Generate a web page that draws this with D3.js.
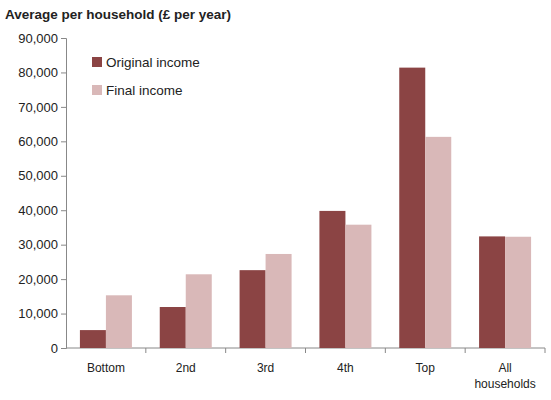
<!DOCTYPE html><html><head><script src="https://cdn.jsdelivr.net/npm/d3@7"></script>
<style>body{margin:0;background:#fff}text{font-family:"Liberation Sans",Arial,sans-serif}</style></head><body>
<script>
const categories=["Bottom","2nd","3rd","4th","Top","All households"];
const original=[5200,11900,22600,39800,81400,32400];
const finalInc=[15300,21400,27300,35800,61300,32300];
const yTicks=[0,10000,20000,30000,40000,50000,60000,70000,80000,90000];
const W=551,H=400,m={l:66,r:545,t:38,b:348};
const svg=d3.select("body").append("svg").attr("width",W).attr("height",H);
const x=d3.scaleBand().domain(categories).range([m.l,m.r]);
const y=d3.scaleLinear().domain([0,90000]).range([m.b,m.t]);
const fmt=d3.format(",");
svg.append("text").attr("x",5).attr("y",19).attr("font-weight","bold").attr("font-size",13.5).attr("fill","#222").text("Average per household (£ per year)");
const ya=svg.append("g").attr("transform",`translate(${m.l},0)`).call(d3.axisLeft(y).tickValues(yTicks).tickFormat(fmt).tickSize(5));
ya.selectAll("text").attr("font-size",13).attr("fill","#222").attr("x",-8);
ya.selectAll("line,path").attr("stroke","#888");
const xa=svg.append("g").attr("transform",`translate(0,${m.b})`);
xa.append("line").attr("x1",m.l).attr("x2",m.r).attr("stroke","#888");
categories.forEach((c,i)=>{
 const x0=x(c);
 xa.append("line").attr("x1",x0+x.bandwidth()).attr("x2",x0+x.bandwidth()).attr("y1",0).attr("y2",5).attr("stroke","#888");
 const t=xa.append("text").attr("x",x0+x.bandwidth()/2).attr("y",24).attr("text-anchor","middle").attr("font-size",12).attr("fill","#222");
 c.split(" ").forEach((w,j)=>t.append("tspan").attr("x",x0+x.bandwidth()/2).attr("dy",j?16:0).text(w));
});
const bw=26;
const g=svg.append("g");
categories.forEach((c,i)=>{
 const cx=x(c)+x.bandwidth()/2;
 g.append("rect").attr("x",cx-bw).attr("width",bw).attr("y",y(original[i])).attr("height",m.b-y(original[i])).attr("fill","#8B4444");
 g.append("rect").attr("x",cx).attr("width",bw).attr("y",y(finalInc[i])).attr("height",m.b-y(finalInc[i])).attr("fill","#D9B8B8");
});
const lg=svg.append("g");
lg.append("rect").attr("x",84).attr("y",47).attr("width",136).attr("height",58).attr("fill","#fff");
[["Original income","#8B4444"],["Final income","#D9B8B8"]].forEach((d,i)=>{
 lg.append("rect").attr("x",92).attr("y",57+i*28).attr("width",10).attr("height",10).attr("fill",d[1]);
 lg.append("text").attr("x",106).attr("y",67+i*28).attr("font-size",13.5).attr("fill","#222").text(d[0]);
});
</script></body></html>
